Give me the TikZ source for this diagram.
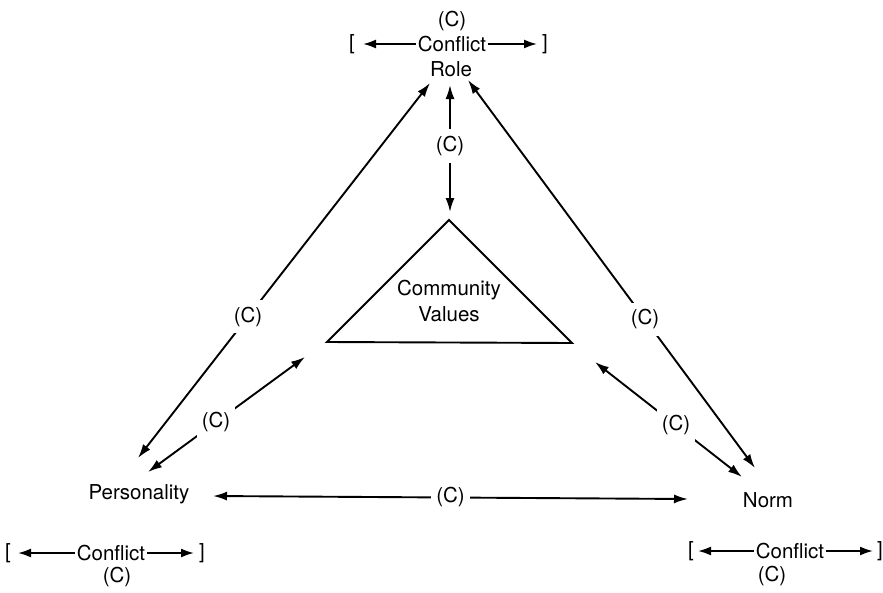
\documentclass[tikz,border=0pt]{standalone}
\usepackage{fontspec}
\setmainfont{TeX Gyre Heros}
\usetikzlibrary{arrows.meta}
\begin{document}
\begin{tikzpicture}[x=1pt,y=-1pt,
  lbl/.style={font=\fontsize{20.5}{24}\selectfont, inner sep=0pt, anchor=center},
  cl/.style={lbl, fill=white, inner xsep=5pt, inner ysep=7pt},
  conn/.style={line width=1.9pt, {Latex[length=14pt,width=9pt]}-{Latex[length=14pt,width=9pt]}},
  one/.style={line width=1.9pt, -{Latex[length=13pt,width=9pt]}},
  tri/.style={line width=1.9pt, line join=miter}]
\useasboundingbox (0,0) rectangle (883,592);

% ---- Role with conflict ----
\node[lbl] (rc) at (452,21) {(C)};
\node[lbl] (rconf) at (452,44) {Conflict};
\node[lbl] (rlb) at (352,44) {[};
\node[lbl] (rrb) at (545,44) {]};
\coordinate (rla) at (363,44);
\coordinate (rra) at (537,44);
\draw[one] ([xshift=-2pt]rconf.west) -- (rla);
\draw[one] ([xshift=2pt]rconf.east) -- (rra);
\node[lbl] (role) at (451,69) {Role};

% ---- Personality ----
\node[lbl] (pers) at (139,494) {Personality};
\node[lbl] (pconf) at (111,553) {Conflict};
\node[lbl] (plb) at (8,553) {[};
\node[lbl] (prb) at (202,553) {]};
\coordinate (pla) at (18,553);
\coordinate (pra) at (194,553);
\draw[one] ([xshift=-2pt]pconf.west) -- (pla);
\draw[one] ([xshift=2pt]pconf.east) -- (pra);
\node[lbl] (pc) at (117,577) {(C)};

% ---- Norm ----
\node[lbl] (norm) at (768,500) {Norm};
\node[lbl] (nconf) at (790,551) {Conflict};
\node[lbl] (nlb) at (691,551) {[};
\node[lbl] (nrb) at (880,551) {]};
\coordinate (nla) at (698,551);
\coordinate (nra) at (873,551);
\draw[one] ([xshift=-2pt]nconf.west) -- (nla);
\draw[one] ([xshift=2pt]nconf.east) -- (nra);
\node[lbl] (nc) at (772,576) {(C)};

% ---- Community Values triangle ----
\coordinate (cvtop) at (449,220);
\coordinate (cvl) at (327,342);
\coordinate (cvr) at (572,343);
\draw[tri] (cvtop) -- (cvl) -- (cvr) -- cycle;
\node[lbl, align=center] (cv) at (449,301) {Community\\[2pt]Values};

% ---- connector end points ----
\coordinate (pRole) at (430,83);
\coordinate (rPers) at (138,458);
\coordinate (rVert) at (450,85);
\coordinate (cvVert) at (450,212);
\coordinate (nRole) at (468,80);
\coordinate (rNorm) at (755,468);
\coordinate (pCV) at (305,357);
\coordinate (cvP) at (148,472);
\coordinate (nCV) at (595,362);
\coordinate (cvN) at (742,477);
\coordinate (hP) at (213,496);
\coordinate (hN) at (688,499);

% ---- connectors ----
\draw[conn] (rPers) -- (pRole) node[cl, pos=0.377] {(C)};
\draw[conn] (rVert) -- (cvVert) node[cl, pos=0.48] {(C)};
\draw[conn] (nRole) -- (rNorm) node[cl, pos=0.617] {(C)};
\draw[conn] (cvP) -- (pCV) node[cl, pos=0.433] {(C)};
\draw[conn] (cvN) -- (nCV) node[cl, pos=0.449] {(C)};
\draw[conn] (hP) -- (hN) node[cl, pos=0.5] {(C)};
\end{tikzpicture}
\end{document}
